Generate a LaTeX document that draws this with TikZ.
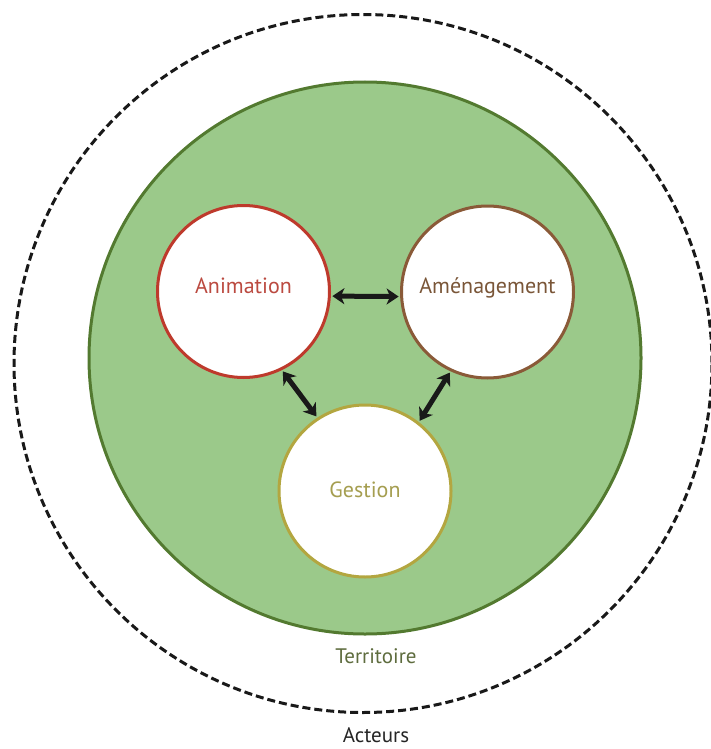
\documentclass[tikz,border=0pt]{standalone}
\usepackage{fontspec}
\setmainfont{PT Sans}
\usetikzlibrary{arrows.meta}
\definecolor{terrfill}{HTML}{9BC98A}
\definecolor{terrline}{HTML}{537A30}
\definecolor{animline}{HTML}{BE3A2C}
\definecolor{animtext}{HTML}{BB4A40}
\definecolor{amenline}{HTML}{8A5A38}
\definecolor{amentext}{HTML}{7A5638}
\definecolor{gestline}{HTML}{B3A640}
\definecolor{gesttext}{HTML}{A59E50}
\definecolor{terrtext}{HTML}{5E6C3E}
\definecolor{acttext}{HTML}{252525}
\begin{document}
\begin{tikzpicture}[x=1pt,y=-1pt,
  pole/.style={circle, draw, fill=white, line width=3pt, minimum size=172pt, inner sep=0pt, font=\fontsize{22}{26}\selectfont, text height=15pt},
  biarrow/.style={line width=5pt, black!90, {Stealth[length=12pt,width=16pt,inset=3.5pt]}-{Stealth[length=12pt,width=16pt,inset=3.5pt]}, shorten <=1.5pt, shorten >=1.5pt},
  caption/.style={font=\fontsize{21}{24}\selectfont, inner sep=0pt}]
\useasboundingbox (0,0) rectangle (710,749);
\node[circle, draw=black!90, dashed, dash pattern=on 8pt off 4pt, line width=3pt, minimum size=698pt, inner sep=0pt] (acteurs) at (363,363.5) {};
\node[circle, draw=terrline, fill=terrfill, line width=3pt, minimum size=552pt, inner sep=0pt] (territoire) at (365,358) {};
\node[pole, draw=animline, text=animtext, text depth=12pt] (anim) at (243.5,291.5) {Animation};
\node[pole, draw=amenline, text=amentext, text depth=12pt] (amen) at (487.5,292) {Aménagement};
\node[pole, draw=gestline, text=gesttext, text depth=3pt] (gest) at (365,491) {Gestion};
\draw[biarrow] (anim.-3.6) -- (amen.183.3);
\draw[biarrow] (anim.-64.4) -- (gest.123);
\draw[biarrow] (amen.-115) -- (gest.52);
\node[caption, text=terrtext] (terrlabel) at (376,656) {Territoire};
\node[caption, text=acttext] (actlabel) at (376,735) {Acteurs};
\end{tikzpicture}
\end{document}
